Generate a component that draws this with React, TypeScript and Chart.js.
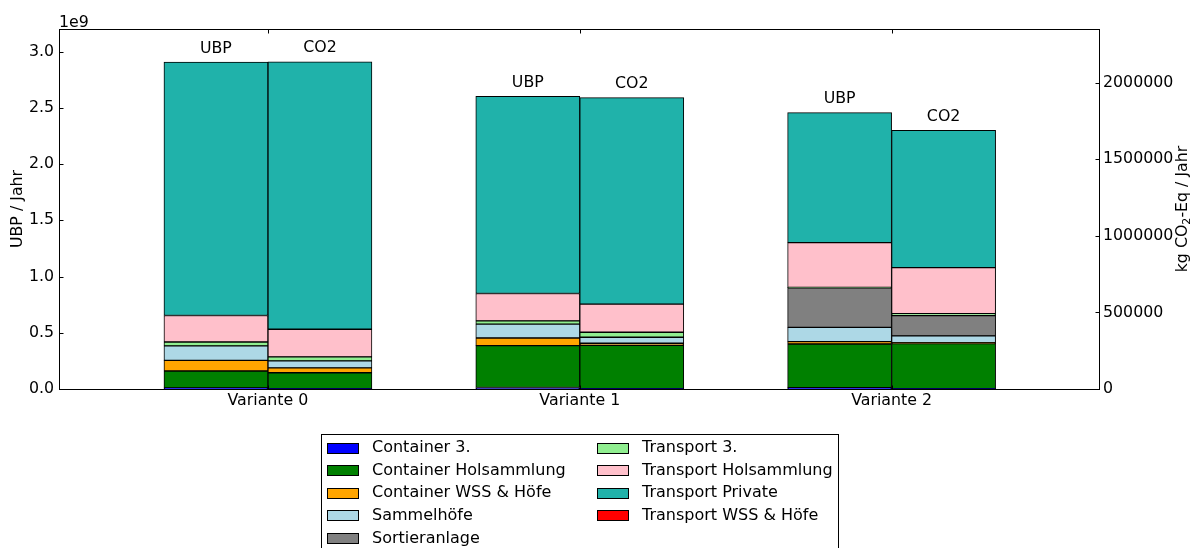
import React, { useEffect, useRef } from 'react';
import { Chart, registerables } from 'chart.js';

Chart.register(...registerables);

const categories = ['Variante 0', 'Variante 1', 'Variante 2'];
const components = [
  'Container 3.',
  'Container Holsammlung',
  'Container WSS & Höfe',
  'Sammelhöfe',
  'Sortieranlage',
  'Transport 3.',
  'Transport Holsammlung',
  'Transport Private',
  'Transport WSS & Höfe',
];
const colors = ['#0000ff', '#008000', '#ffa500', '#add8e6', '#808080', '#90ee90', '#ffc0cb', '#20b2aa', '#ff0000'];

// UBP / Jahr (in units of 1e9)
const ubpContainer3 = [0.010, 0.013, 0.012];
const ubpContainerHolsammlung = [0.150, 0.372, 0.388];
const ubpContainerWSS = [0.095, 0.068, 0.021];
const ubpSammelhoefe = [0.128, 0.124, 0.127];
const ubpSortieranlage = [0, 0, 0.352];
const ubpTransport3 = [0.035, 0.029, 0.004];
const ubpTransportHolsammlung = [0.235, 0.243, 0.397];
const ubpTransportPrivate = [2.253, 1.752, 1.156];
const ubpTransportWSS = [0, 0, 0];

// kg CO2-Eq / Jahr
const co2Container3 = [2000, 2000, 2000];
const co2ContainerHolsammlung = [104000, 283600, 294000];
const co2ContainerWSS = [32000, 13100, 6000];
const co2Sammelhoefe = [46000, 39200, 44400];
const co2Sortieranlage = [0, 0, 132700];
const co2Transport3 = [26000, 32700, 13100];
const co2TransportHolsammlung = [180000, 183000, 300600];
const co2TransportPrivate = [1745000, 1348400, 895500];
const co2TransportWSS = [0, 0, 0];

const leftTicks = ['0.0', '0.5', '1.0', '1.5', '2.0', '2.5', '3.0'];
const rightTicks = ['0', '500000', '1000000', '1500000', '2000000'];
const stackLabels = ['UBP', 'CO2'];

const ubpSeries = [
  ubpContainer3, ubpContainerHolsammlung, ubpContainerWSS, ubpSammelhoefe, ubpSortieranlage,
  ubpTransport3, ubpTransportHolsammlung, ubpTransportPrivate, ubpTransportWSS,
];
const co2Series = [
  co2Container3, co2ContainerHolsammlung, co2ContainerWSS, co2Sammelhoefe, co2Sortieranlage,
  co2Transport3, co2TransportHolsammlung, co2TransportPrivate, co2TransportWSS,
];

const FAMILY = '"DejaVu Sans", "Liberation Sans", sans-serif';
const FS = 15.8;
const LFS = 16;

const overlayPlugin = {
  id: 'overlay',
  afterDraw(chart: any) {
    const ctx = chart.ctx as CanvasRenderingContext2D;
    const a = chart.chartArea;
    ctx.save();
    ctx.strokeStyle = '#000';
    ctx.lineWidth = 1;
    const L = Math.round(a.left) + 0.5;
    const R = Math.round(a.right) + 0.5;
    const T = Math.round(a.top) + 0.5;
    const B = Math.round(a.bottom) + 0.5;
    ctx.strokeRect(L, T, R - L, B - T);

    // inward tick marks
    const tl = 4;
    ctx.beginPath();
    chart.scales.y.ticks.forEach((t: any) => {
      const y = Math.round(chart.scales.y.getPixelForValue(t.value)) + 0.5;
      ctx.moveTo(L, y); ctx.lineTo(L + tl, y);
    });
    chart.scales.y2.ticks.forEach((t: any) => {
      const y = Math.round(chart.scales.y2.getPixelForValue(t.value)) + 0.5;
      ctx.moveTo(R, y); ctx.lineTo(R - tl, y);
    });
    chart.scales.x.ticks.forEach((t: any) => {
      const x = Math.round(chart.scales.x.getPixelForValue(t.value)) + 0.5;
      ctx.moveTo(x, B); ctx.lineTo(x, B - tl);
      ctx.moveTo(x, T); ctx.lineTo(x, T + tl);
    });
    ctx.stroke();

    ctx.fillStyle = '#000';
    ctx.font = `${FS}px ${FAMILY}`;
    // offset text
    ctx.textAlign = 'left';
    ctx.textBaseline = 'alphabetic';
    ctx.fillText('1e9', a.left, a.top - 2);

    // stack labels above bars
    const n = components.length;
    ctx.textAlign = 'center';
    [n - 1, 2 * n - 1].forEach((di, s) => {
      const meta = chart.getDatasetMeta(di);
      meta.data.forEach((el: any) => {
        ctx.fillText(stackLabels[s], el.x, el.y - 9.5);
      });
    });

    // axis titles
    const cy = (a.top + a.bottom) / 2;
    ctx.save();
    ctx.translate(18, cy);
    ctx.rotate(-Math.PI / 2);
    ctx.textAlign = 'center';
    ctx.textBaseline = 'middle';
    ctx.fillText('UBP / Jahr', 0, 0);
    ctx.restore();

    ctx.save();
    ctx.translate(1183, cy);
    ctx.rotate(-Math.PI / 2);
    ctx.textBaseline = 'middle';
    ctx.textAlign = 'left';
    const p1 = 'kg CO';
    const p2 = '2';
    const p3 = '-Eq / Jahr';
    ctx.font = `${FS}px ${FAMILY}`;
    const w1 = ctx.measureText(p1).width;
    const w3 = ctx.measureText(p3).width;
    ctx.font = `${FS * 0.7}px ${FAMILY}`;
    const w2 = ctx.measureText(p2).width;
    const total = w1 + w2 + w3;
    let x = -total / 2;
    ctx.font = `${FS}px ${FAMILY}`;
    ctx.fillText(p1, x, 0);
    x += w1;
    ctx.font = `${FS * 0.7}px ${FAMILY}`;
    ctx.fillText(p2, x, 4);
    x += w2;
    ctx.font = `${FS}px ${FAMILY}`;
    ctx.fillText(p3, x, 0);
    ctx.restore();

    // legend
    const lx = 321.5;
    const ly = 434.5;
    const lw = 517;
    ctx.lineWidth = 1;
    ctx.strokeStyle = '#000';
    ctx.strokeRect(lx, ly, lw, 200);
    ctx.textAlign = 'left';
    ctx.textBaseline = 'middle';
    ctx.font = `${LFS}px ${FAMILY}`;
    components.forEach((name, i) => {
      const col = i < 5 ? 0 : 1;
      const row = i < 5 ? i : i - 5;
      const px = col ? 597 : 327;
      const tx = col ? 642 : 372;
      const ry = 448 + row * 22.6;
      const top = Math.round(ry - 5.5);
      ctx.fillStyle = colors[i];
      ctx.fillRect(px, top, 32, 11);
      ctx.strokeStyle = '#000';
      ctx.strokeRect(px + 0.5, top + 0.5, 31, 10);
      ctx.fillStyle = '#000';
      ctx.fillText(name, tx, ry);
    });
    ctx.restore();
  },
};

export default function App() {
  const ref = useRef<HTMLCanvasElement | null>(null);

  useEffect(() => {
    if (!ref.current) return;
    const datasets: any[] = [];
    components.forEach((name, k) => {
      datasets.push({
        label: name,
        data: categories.map((_, i) => ({ x: i, y: ubpSeries[k][i] * 1e9 })),
        backgroundColor: colors[k],
        borderColor: '#000',
        borderWidth: 1,
        borderSkipped: false,
        stack: 'UBP',
        yAxisID: 'y',
        barThickness: 104,
      });
    });
    components.forEach((name, k) => {
      datasets.push({
        label: name,
        data: categories.map((_, i) => ({ x: i, y: co2Series[k][i] })),
        backgroundColor: colors[k],
        borderColor: '#000',
        borderWidth: 1,
        borderSkipped: false,
        stack: 'CO2',
        yAxisID: 'y2',
        barThickness: 104,
      });
    });

    const font = { family: FAMILY, size: FS };
    const chart = new Chart(ref.current, {
      type: 'bar',
      data: { datasets },
      options: {
        animation: false,
        responsive: false,
        devicePixelRatio: 1,
        layout: { padding: { top: 29, left: 0, right: 0, bottom: 0 } },
        plugins: {
          legend: { display: false },
          tooltip: { enabled: false },
        },
        scales: {
          x: {
            type: 'linear',
            min: -0.67,
            max: 2.665,
            offset: false,
            grid: { display: false, drawTicks: false },
            border: { display: false },
            afterBuildTicks: (s: any) => {
              s.ticks = categories.map((_, i) => ({ value: i }));
            },
            ticks: {
              callback: (v: any) => categories[Math.round(Number(v))] ?? '',
              font,
              color: '#000',
              padding: 2,
              maxRotation: 0,
              autoSkip: false,
            },
            afterFit: (s: any) => { s.height = 159; },
          },
          y: {
            position: 'left',
            stacked: true,
            min: 0,
            max: 3.2e9,
            grid: { display: false, drawTicks: false },
            border: { display: false },
            afterBuildTicks: (s: any) => {
              s.ticks = leftTicks.map((t) => ({ value: parseFloat(t) * 1e9 }));
            },
            ticks: {
              callback: (v: any) => {
                const idx = leftTicks.findIndex((t) => Math.abs(parseFloat(t) * 1e9 - Number(v)) < 1);
                return idx >= 0 ? leftTicks[idx] : '';
              },
              font,
              color: '#000',
              padding: 5,
            },
            afterFit: (s: any) => { s.width = 59; },
          },
          y2: {
            position: 'right',
            stacked: true,
            min: 0,
            max: 2350000,
            grid: { display: false, drawTicks: false },
            border: { display: false },
            afterBuildTicks: (s: any) => {
              s.ticks = rightTicks.map((t) => ({ value: parseFloat(t) }));
            },
            ticks: {
              callback: (v: any) => {
                const idx = rightTicks.findIndex((t) => Math.abs(parseFloat(t) - Number(v)) < 1);
                return idx >= 0 ? rightTicks[idx] : '';
              },
              font,
              color: '#000',
              padding: 4,
            },
            afterFit: (s: any) => { s.width = 98; },
          },
        },
      } as any,
      plugins: [overlayPlugin],
    });
    return () => chart.destroy();
  }, []);

  return (
    <div style={{ position: 'fixed', left: 0, top: 0, width: 1197, height: 548, background: '#fff' }}>
      <canvas ref={ref} width={1197} height={548} style={{ display: 'block' }} />
    </div>
  );
}
